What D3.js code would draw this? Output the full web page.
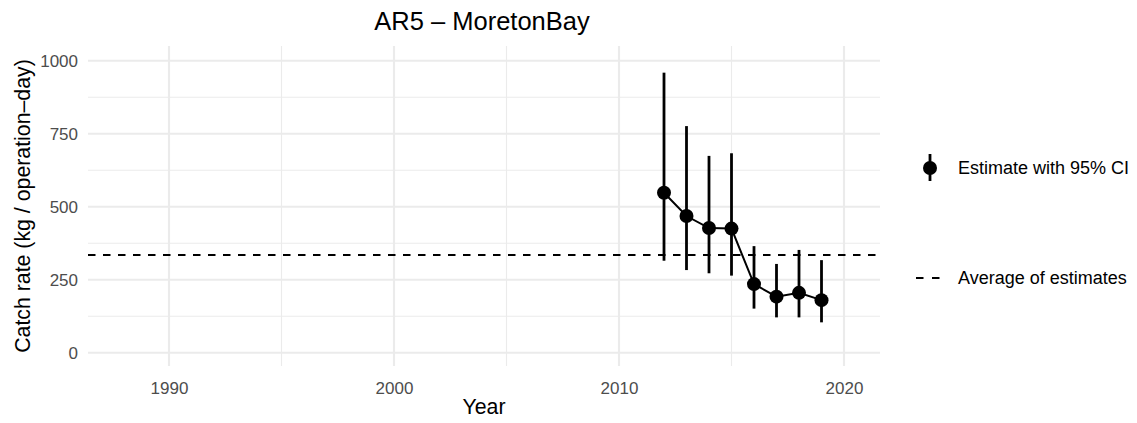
<!DOCTYPE html>
<html>
<head>
<meta charset="utf-8">
<script src="https://cdn.jsdelivr.net/npm/d3@7"></script>
<style>
  html, body { margin: 0; padding: 0; background: #ffffff; }
  svg { display: block; font-family: "Liberation Sans", Arial, Helvetica, sans-serif; }
</style>
</head>
<body>
<svg id="chart" width="1137" height="423"></svg>
<script>
// Standardised catch rate estimates for AR5 – Moreton Bay
const years    = [2012, 2013, 2014, 2015, 2016, 2017, 2018, 2019];
const estimate = [548, 468, 427, 425, 235, 192, 205, 180];
const lower    = [315, 283, 272, 264, 151, 121, 121, 104];
const upper    = [959, 776, 674, 683, 365, 304, 352, 317];

const xTicks      = [1990, 2000, 2010, 2020];
const xMinorTicks = [1995, 2005, 2015];
const yTicks      = [0, 250, 500, 750, 1000];
const yMinorTicks = [125, 375, 625, 875];

const titleText  = "AR5 \u2013 MoretonBay";
const xLabel     = "Year";
const yLabel     = "Catch rate (kg / operation\u2013day)";
const legendCI   = "Estimate with 95% CI";
const legendAvg  = "Average of estimates";

const average = d3.mean(estimate);

const svg = d3.select("#chart");
const panel = { left: 88, right: 880, top: 46, bottom: 366 };

const x = d3.scaleLinear().domain([1986.4, 2021.6]).range([panel.left, panel.right]);
const y = d3.scaleLinear().domain([-45.5, 1050.3]).range([panel.bottom, panel.top]);

const grid = svg.append("g");
// minor grid
grid.selectAll("line.vminor").data(xMinorTicks).join("line")
  .attr("x1", d => x(d)).attr("x2", d => x(d))
  .attr("y1", panel.top).attr("y2", panel.bottom)
  .attr("stroke", "#ebebeb").attr("stroke-width", 1.1);
grid.selectAll("line.hminor").data(yMinorTicks).join("line")
  .attr("y1", d => y(d)).attr("y2", d => y(d))
  .attr("x1", panel.left).attr("x2", panel.right)
  .attr("stroke", "#ebebeb").attr("stroke-width", 1.1);
// major grid
grid.selectAll("line.vmajor").data(xTicks).join("line")
  .attr("x1", d => x(d)).attr("x2", d => x(d))
  .attr("y1", panel.top).attr("y2", panel.bottom)
  .attr("stroke", "#ebebeb").attr("stroke-width", 2.1);
grid.selectAll("line.hmajor").data(yTicks).join("line")
  .attr("y1", d => y(d)).attr("y2", d => y(d))
  .attr("x1", panel.left).attr("x2", panel.right)
  .attr("stroke", "#ebebeb").attr("stroke-width", 2.1);

// axis tick labels
const xAxis = svg.append("g")
  .attr("transform", `translate(0,${panel.bottom + 2})`)
  .call(d3.axisBottom(x).tickValues(xTicks).tickFormat(d3.format("d")).tickSize(0).tickPadding(14));
const yAxis = svg.append("g")
  .attr("transform", `translate(${panel.left - 10},0)`)
  .call(d3.axisLeft(y).tickValues(yTicks).tickFormat(d3.format("d")).tickSize(0).tickPadding(0));
[xAxis, yAxis].forEach(a => {
  a.select(".domain").remove();
  a.selectAll("text")
    .attr("fill", "#4d4d4d")
    .style("font-size", "17px")
    .style("font-family", "\"Liberation Sans\", Arial, sans-serif");
});

// average line
svg.append("line")
  .attr("x1", panel.left).attr("x2", panel.right)
  .attr("y1", y(average)).attr("y2", y(average))
  .attr("stroke", "#000").attr("stroke-width", 2)
  .attr("stroke-dasharray", "7.5,7.5");

const pts = years.map((yr, i) => ({ yr, est: estimate[i], lo: lower[i], hi: upper[i] }));

// confidence intervals
svg.append("g").selectAll("line").data(pts).join("line")
  .attr("x1", d => x(d.yr)).attr("x2", d => x(d.yr))
  .attr("y1", d => y(d.lo)).attr("y2", d => y(d.hi))
  .attr("stroke", "#000").attr("stroke-width", 2.8);

// connecting line
svg.append("path").datum(pts)
  .attr("fill", "none").attr("stroke", "#000").attr("stroke-width", 2)
  .attr("d", d3.line().x(d => x(d.yr)).y(d => y(d.est)));

// points
svg.append("g").selectAll("circle").data(pts).join("circle")
  .attr("cx", d => x(d.yr)).attr("cy", d => y(d.est)).attr("r", 7)
  .attr("fill", "#000");

// titles
svg.append("text").attr("x", 482).attr("y", 30)
  .attr("text-anchor", "middle").style("font-size", "25.5px").attr("fill", "#000")
  .text(titleText);
svg.append("text").attr("x", (panel.left + panel.right) / 2).attr("y", 414)
  .attr("text-anchor", "middle").style("font-size", "21.3px").attr("fill", "#000")
  .text(xLabel);
svg.append("text")
  .attr("transform", `translate(30,${(panel.top + panel.bottom) / 2}) rotate(-90)`)
  .attr("text-anchor", "middle").style("font-size", "21.3px").attr("fill", "#000")
  .text(yLabel);

// legend
const lg = svg.append("g");
lg.append("line").attr("x1", 930).attr("x2", 930).attr("y1", 154).attr("y2", 181)
  .attr("stroke", "#000").attr("stroke-width", 2.8);
lg.append("circle").attr("cx", 930).attr("cy", 168).attr("r", 7).attr("fill", "#000");
lg.append("text").attr("x", 958).attr("y", 168).attr("dy", "0.35em")
  .style("font-size", "18px").attr("fill", "#000").text(legendCI);
lg.append("line").attr("x1", 916).attr("x2", 939.5).attr("y1", 278).attr("y2", 278)
  .attr("stroke", "#000").attr("stroke-width", 2).attr("stroke-dasharray", "7.5,8.5");
lg.append("text").attr("x", 958).attr("y", 278).attr("dy", "0.35em")
  .style("font-size", "18px").attr("fill", "#000").text(legendAvg);
</script>
</body>
</html>
